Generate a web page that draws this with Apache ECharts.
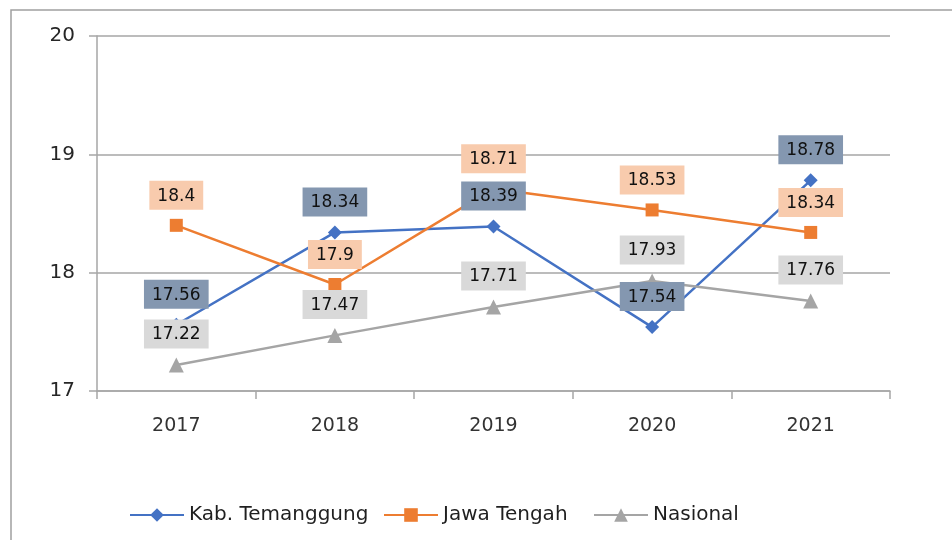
<!DOCTYPE html>
<html>
<head>
<meta charset="utf-8">
<script src="https://cdn.jsdelivr.net/npm/echarts@6/dist/echarts.min.js"></script>
<style>
    html, body { margin: 0; padding: 0; background: #fff; }
    #chart { width: 952px; height: 540px; }
</style>
</head>
<body>
<div id="chart"></div>
<script>
// data
const years = ['2017', '2018', '2019', '2020', '2021']
const seriesNames = ['Kab. Temanggung', 'Jawa Tengah', 'Nasional']
const temanggung = [17.56, 18.34, 18.39, 17.54, 18.78]
const jawaTengah = [18.4, 17.9, 18.71, 18.53, 18.34]
const nasional = [17.22, 17.47, 17.71, 17.93, 17.76]

const font = 'DejaVu Sans'

// label style for each series
function boxLabel(bg) {
    return {
        show: true,
        position: 'top',
        distance: 9,
        backgroundColor: bg,
        padding: [7, 8, 5, 8],
        color: '#111',
        fontFamily: font,
        fontSize: 17
    }
}

function makeSeries(name, data, color, symbol, size, labelBg) {
    return {
        name: name,
        type: 'line',
        data: data,
        symbol: symbol,
        symbolSize: size,
        showAllSymbol: true,
        itemStyle: { color: color },
        lineStyle: { color: color, width: 2.5 },
        label: boxLabel(labelBg),
        emphasis: { disabled: true }
    }
}

// one legend per item so each sits where the original puts it
function makeLegend(name, left) {
    return {
        data: [name],
        bottom: 10,
        left: left,
        itemWidth: 54,
        itemHeight: 17,
        textStyle: { fontFamily: font, fontSize: 20, color: '#1f1f1f' }
    }
}

const chart = echarts.init(document.getElementById('chart'))
const option = {
    animation: false,
    graphic: [
        {
            type: 'rect',
            shape: { x: 11, y: 10, width: 980, height: 600 },
            style: { fill: 'none', stroke: '#a0a0a0', lineWidth: 1.5 },
            silent: true
        }
    ],
    grid: { left: 97, right: 62, top: 36, bottom: 149 },
    legend: [
        makeLegend(seriesNames[0], 124),
        makeLegend(seriesNames[1], 378),
        makeLegend(seriesNames[2], 588)
    ],
    xAxis: {
        type: 'category',
        data: years,
        boundaryGap: true,
        axisLine: { lineStyle: { color: '#a6a6a6', width: 1.5 } },
        axisTick: { show: true, length: 8, lineStyle: { color: '#a6a6a6', width: 1.5 } },
        axisLabel: { margin: 26, fontFamily: font, fontSize: 19, color: '#333' }
    },
    yAxis: {
        type: 'value',
        min: 17,
        max: 20,
        interval: 1,
        axisLine: { show: true, lineStyle: { color: '#a6a6a6', width: 1.5 } },
        axisTick: { show: true, length: 8, lineStyle: { color: '#a6a6a6', width: 1.5 } },
        splitLine: { lineStyle: { color: '#a6a6a6', width: 1.5 } },
        axisLabel: { margin: 22, fontFamily: font, fontSize: 20, color: '#262626' }
    },
    series: [
        makeSeries(seriesNames[0], temanggung, '#4472c4', 'diamond', 14, '#8497b0'),
        makeSeries(seriesNames[1], jawaTengah, '#ed7d31', 'rect', 13, '#f8cbad'),
        makeSeries(seriesNames[2], nasional, '#a5a5a5', 'triangle', 15, '#d9d9d9')
    ]
}
option && chart.setOption(option)
</script>
</body>
</html>
